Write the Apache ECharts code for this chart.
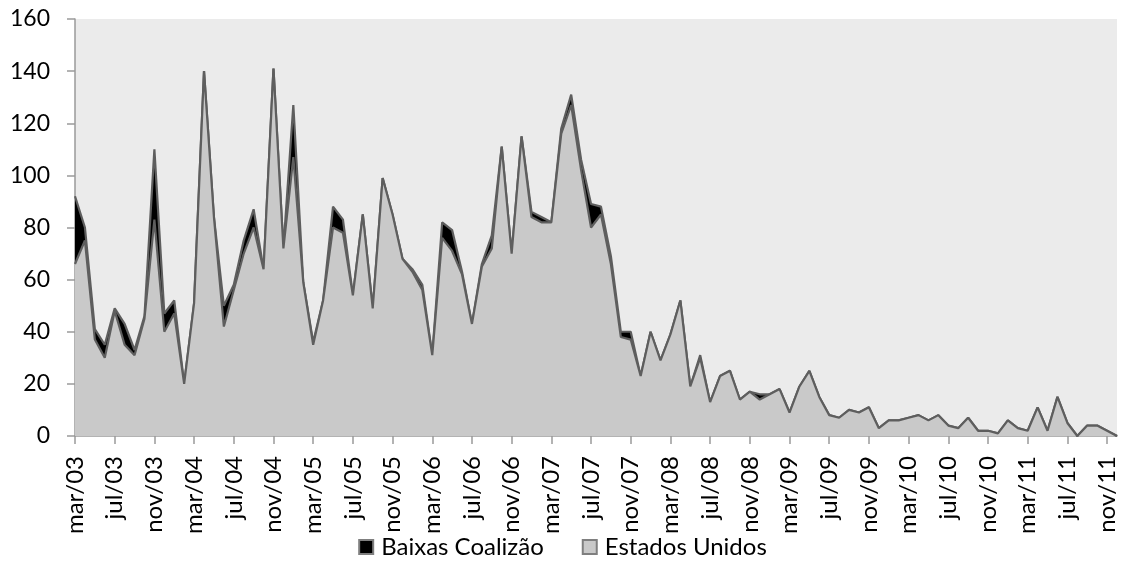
<!DOCTYPE html>
<html>
<head>
<meta charset="utf-8">
<script src="https://cdn.jsdelivr.net/npm/echarts@6/dist/echarts.min.js"></script>
<style>
  html, body { margin: 0; padding: 0; background: #ffffff; }
  #chart { width: 1125px; height: 565px; }
</style>
</head>
<body>
<div id="chart"></div>
<script>
// Meses (mar/03 a dez/11)
const categories = [
  'mar/03','abr/03','mai/03','jun/03','jul/03','ago/03','set/03','out/03','nov/03','dez/03',
  'jan/04','fev/04','mar/04','abr/04','mai/04','jun/04','jul/04','ago/04','set/04','out/04','nov/04','dez/04',
  'jan/05','fev/05','mar/05','abr/05','mai/05','jun/05','jul/05','ago/05','set/05','out/05','nov/05','dez/05',
  'jan/06','fev/06','mar/06','abr/06','mai/06','jun/06','jul/06','ago/06','set/06','out/06','nov/06','dez/06',
  'jan/07','fev/07','mar/07','abr/07','mai/07','jun/07','jul/07','ago/07','set/07','out/07','nov/07','dez/07',
  'jan/08','fev/08','mar/08','abr/08','mai/08','jun/08','jul/08','ago/08','set/08','out/08','nov/08','dez/08',
  'jan/09','fev/09','mar/09','abr/09','mai/09','jun/09','jul/09','ago/09','set/09','out/09','nov/09','dez/09',
  'jan/10','fev/10','mar/10','abr/10','mai/10','jun/10','jul/10','ago/10','set/10','out/10','nov/10','dez/10',
  'jan/11','fev/11','mar/11','abr/11','mai/11','jun/11','jul/11','ago/11','set/11','out/11','nov/11','dez/11'
];

// Baixas dos Estados Unidos por mês
const estadosUnidos = [
  66, 75, 37, 30, 48, 35, 31, 45, 83, 40,
  47, 20, 51, 140, 84, 42, 56, 70, 80, 64, 141, 72,
  107, 59, 35, 52, 80, 78, 54, 85, 49, 99, 85, 68,
  63, 56, 31, 76, 71, 62, 43, 65, 72, 111, 70, 115,
  84, 82, 82, 116, 127, 102, 80, 85, 66, 38, 37, 23,
  40, 29, 39, 52, 19, 30, 13, 23, 25, 14, 17, 14,
  16, 18, 9, 19, 25, 15, 8, 7, 10, 9, 11, 3,
  6, 6, 7, 8, 6, 8, 4, 3, 7, 2, 2, 1,
  6, 3, 2, 11, 2, 15, 5, 0, 4, 4, 2, 0
];

// Demais baixas da coalizão (empilhadas sobre as dos EUA)
const baixasCoalizao = [
  26, 5, 4, 5, 1, 8, 2, 1, 27, 7,
  5, 0, 0, 0, 0, 8, 2, 5, 7, 0, 0, 0,
  20, 0, 1, 0, 8, 5, 0, 0, 0, 0, 0, 0,
  1, 2, 0, 6, 8, 1, 0, 1, 5, 0, 0, 0,
  2, 2, 0, 2, 4, 4, 9, 3, 3, 2, 3, 0,
  0, 0, 0, 0, 0, 1, 0, 0, 0, 0, 0, 2,
  0, 0, 0, 0, 0, 0, 0, 0, 0, 0, 0, 0,
  0, 0, 0, 0, 0, 0, 0, 0, 0, 0, 0, 0,
  0, 0, 0, 0, 0, 0, 0, 0, 0, 0, 0, 0
];

const yTicks = { min: 0, max: 160, interval: 20 };

const FONT = 'Lato';
const AXIS_GRAY = '#9a9a9a';
const LINE_GRAY = '#5e5e5e';

const chart = echarts.init(document.getElementById('chart'), null, { renderer: 'canvas' });

chart.setOption({
  animation: false,
  textStyle: { fontFamily: FONT },
  grid: {
    left: 75, right: 8, top: 19, bottom: 129,
    show: true, backgroundColor: '#ebebeb', borderWidth: 0
  },
  legend: {
    data: ['Baixas Coalizão', 'Estados Unidos'],
    top: 535,
    left: 'center',
    padding: 0,
    icon: 'rect',
    itemWidth: 14,
    itemHeight: 14,
    itemGap: 38,
    textStyle: { fontFamily: FONT, fontSize: 24, color: '#000', padding: [0, 0, 0, 3] }
  },
  xAxis: {
    type: 'category',
    data: categories,
    boundaryGap: false,
    axisLine: { lineStyle: { color: AXIS_GRAY, width: 1.5 } },
    axisTick: { interval: 3, length: 8, lineStyle: { color: AXIS_GRAY, width: 1.5 } },
    axisLabel: {
      interval: 3, rotate: 90, margin: 20,
      fontFamily: FONT, fontSize: 24, color: '#000'
    },
    splitLine: { show: false }
  },
  yAxis: {
    type: 'value',
    min: yTicks.min, max: yTicks.max, interval: yTicks.interval,
    axisLine: { show: true, lineStyle: { color: AXIS_GRAY, width: 1.5 } },
    axisTick: { show: true, length: 8, lineStyle: { color: AXIS_GRAY, width: 1.5 } },
    axisLabel: { margin: 25, fontFamily: FONT, fontSize: 23, color: '#000' },
    splitLine: { show: false }
  },
  series: [
    {
      name: 'Estados Unidos',
      type: 'line',
      stack: 'baixas',
      data: estadosUnidos,
      symbol: 'none',
      z: 3,
      lineStyle: { color: LINE_GRAY, width: 2.2 },
      itemStyle: { color: '#c9c9c9', borderColor: '#7f7f7f', borderWidth: 1 },
      areaStyle: { color: '#c9c9c9', opacity: 1 }
    },
    {
      name: 'Baixas Coalizão',
      type: 'line',
      stack: 'baixas',
      data: baixasCoalizao,
      symbol: 'none',
      z: 2,
      lineStyle: { color: LINE_GRAY, width: 2.2 },
      itemStyle: { color: '#000000', borderColor: '#7f7f7f', borderWidth: 1 },
      areaStyle: { color: '#000000', opacity: 1 }
    }
  ]
});
</script>
</body>
</html>
